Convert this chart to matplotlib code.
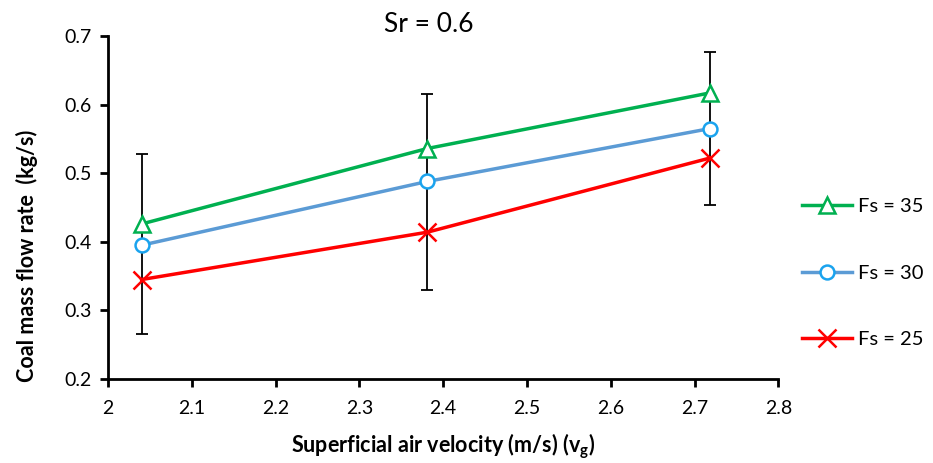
import numpy as np
import matplotlib
matplotlib.use('Agg')
import matplotlib.pyplot as plt

# air velocity (m/s)
vg = [2.04, 2.381, 2.718]

# coal mass flow rate (kg/s) per Fs setting
fs35 = [0.426, 0.536, 0.617]
fs30 = [0.395, 0.488, 0.565]
fs25 = [0.345, 0.414, 0.522]

# error bar extents
err_low = [0.266, 0.330, 0.454]
err_high = [0.528, 0.616, 0.677]

labels = ['Fs = 35', 'Fs = 30', 'Fs = 25']

plt.rcParams['font.family'] = ['Lato', 'DejaVu Sans']

fig = plt.figure(figsize=(9.33, 4.63), dpi=100)
ax = fig.add_axes([0.1158, 0.1814, 0.7184, 0.7408])

#### error bars (drawn first so lines sit on top)
mid = (np.array(err_low) + np.array(err_high)) / 2
half = (np.array(err_high) - np.array(err_low)) / 2
ax.errorbar(vg, mid, yerr=half, fmt='none', ecolor='black', elinewidth=1.3,
            capsize=4, capthick=1.3, zorder=2)

ax.plot(vg, fs35, color='#00B050', lw=2.5, marker='^', ms=11, mfc='white',
        mec='#00B050', mew=1.8, label=labels[0], zorder=3)
ax.plot(vg, fs30, color='#5B9BD5', lw=2.5, marker='o', ms=10, mfc='white',
        mec='#1AA3EE', mew=1.8, label=labels[1], zorder=3)
ax.plot(vg, fs25, color='#FF0000', lw=2.5, marker='x', ms=13, mec='#FF0000',
        mew=1.8, label=labels[2], zorder=3)

ax.set_xlim(2, 2.8)
ax.set_ylim(0.2, 0.7)
ax.set_xticks(np.arange(2, 2.81, 0.1))
ax.set_xticklabels(['2', '2.1', '2.2', '2.3', '2.4', '2.5', '2.6', '2.7', '2.8'])
ax.set_yticks(np.arange(0.2, 0.71, 0.1))
ax.set_yticklabels(['0.2', '0.3', '0.4', '0.5', '0.6', '0.7'])

for s in ['top', 'right']:
    ax.spines[s].set_visible(False)
for s in ['left', 'bottom']:
    ax.spines[s].set_linewidth(2)
ax.tick_params(width=2, length=6, labelsize=14)
ax.tick_params(axis='x', pad=9)
ax.tick_params(axis='y', pad=6)

fig.text(429 / 933, 1 - 25 / 463, 'Sr = 0.6', fontsize=19, ha='center', va='center')
ax.set_xlabel('Superficial air velocity (m/s) (v$_\\mathregular{g}$)',
              fontsize=15.5, fontweight='bold', labelpad=10)
ax.set_ylabel('Coal mass flow rate  (kg/s)', fontsize=15.5, fontweight='bold')
ax.yaxis.set_label_coords(-0.104, 0.36)

ax.legend(loc='center left', bbox_to_anchor=(1.008, 0.308), frameon=False,
          fontsize=14.5, handlelength=2.5, labelspacing=2.45, handletextpad=0.3)

fig.savefig('out.png', dpi=100)
